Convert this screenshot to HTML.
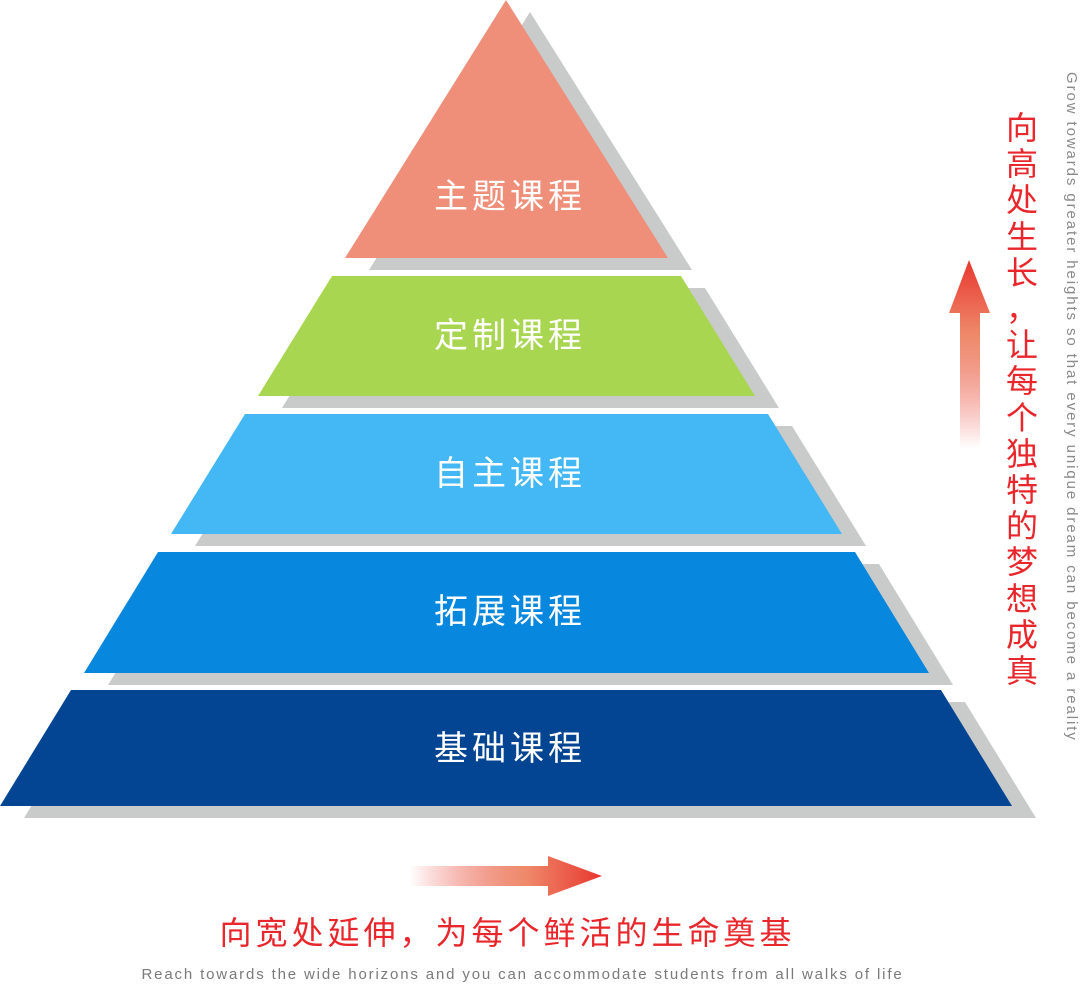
<!DOCTYPE html>
<html><head><meta charset="utf-8"><style>
body{margin:0;width:1080px;height:985px;background:#fff;overflow:hidden;position:relative;font-family:"Liberation Sans","Noto Sans CJK SC",sans-serif}
.lbl{position:absolute;left:358px;width:300px;text-align:center;color:#fff;font-size:34px;line-height:40px;letter-spacing:4px;text-indent:4px}
</style></head><body>
<svg width="1080" height="985" style="position:absolute;left:0;top:0">
<defs>
<linearGradient id="gu" x1="0" y1="1" x2="0" y2="0"><stop offset="0" stop-color="#e8372f" stop-opacity="0"/><stop offset="0.6" stop-color="#ee8a6a"/><stop offset="1" stop-color="#e8372f"/></linearGradient>
<linearGradient id="gr" x1="0" y1="0" x2="1" y2="0"><stop offset="0" stop-color="#e8372f" stop-opacity="0"/><stop offset="0.6" stop-color="#ee8a6a"/><stop offset="1" stop-color="#e8372f"/></linearGradient>
</defs>
<g fill="#c9caca" transform="translate(24,12)">
<polygon points="506,0 668,258 345,258"/>
<polygon points="332,276 681,276 755,396 258,396"/>
<polygon points="245,414 768,414 842,534 171,534"/>
<polygon points="158,552 855,552 929,673 84,673"/>
<polygon points="71,690 941,690 1012,806 0,806"/>
</g>
<polygon points="506,0 668,258 345,258" fill="#ef8f7a"/>
<polygon points="332,276 681,276 755,396 258,396" fill="#a9d651"/>
<polygon points="245,414 768,414 842,534 171,534" fill="#43b8f5"/>
<polygon points="158,552 855,552 929,673 84,673" fill="#0787de"/>
<polygon points="71,690 941,690 1012,806 0,806" fill="#034592"/>
<polygon points="969,260 990,313 980,313 980,448 960,448 960,313 949,313" fill="url(#gu)"/>
<polygon points="410,866 548,866 548,856 602,876 548,896 548,886 410,886" fill="url(#gr)"/>
</svg>
<div class="lbl" style="top:177px">主题课程</div>
<div class="lbl" style="top:316px">定制课程</div>
<div class="lbl" style="top:454px">自主课程</div>
<div class="lbl" style="top:592px">拓展课程</div>
<div class="lbl" style="top:729px">基础课程</div>
<div style="position:absolute;left:1004px;top:110px;width:36px;color:#e8262b;font-size:32px;line-height:36.2px;text-align:center">向<br>高<br>处<br>生<br>长<br>，<br>让<br>每<br>个<br>独<br>特<br>的<br>梦<br>想<br>成<br>真</div>
<div style="position:absolute;left:1063px;top:72px;writing-mode:vertical-rl;color:#8a8a8a;font-size:15px;letter-spacing:1.9px;white-space:nowrap">Grow towards greater heights so that every unique dream can become a reality</div>
<div style="position:absolute;left:210px;top:913px;width:595px;text-align:center;color:#e8262b;font-size:32px;line-height:40px;letter-spacing:4px;white-space:nowrap">向宽处延伸，为每个鲜活的生命奠基</div>
<div style="position:absolute;left:100px;top:966px;width:845px;text-align:center;color:#7a7a7a;font-size:15px;letter-spacing:1.85px;white-space:nowrap">Reach towards the wide horizons and you can accommodate students from all walks of life</div>
</body></html>
